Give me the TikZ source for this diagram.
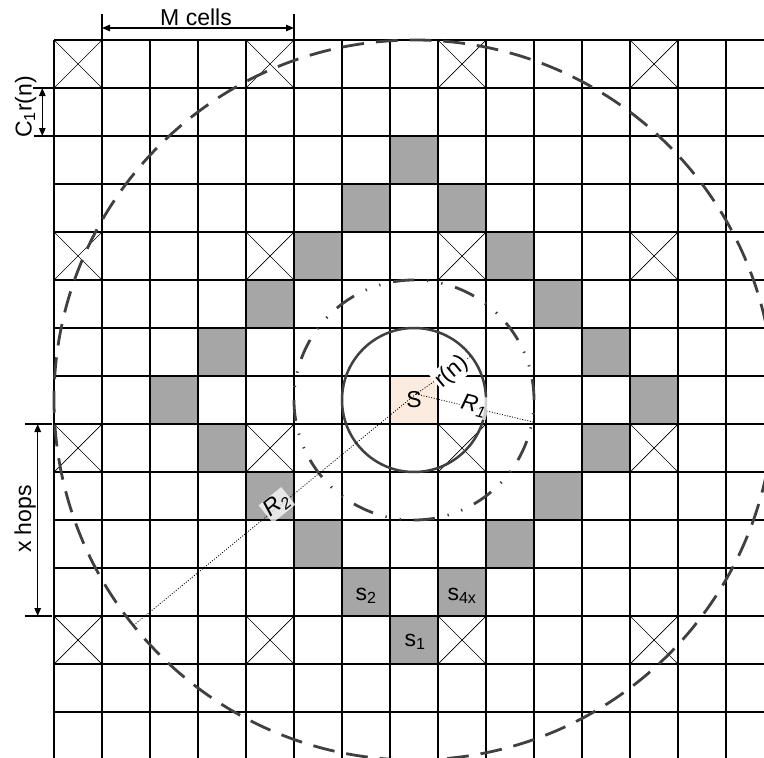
\documentclass[tikz,border=0pt]{standalone}
\usepackage{fontspec}
\setmainfont{Liberation Sans}
\usetikzlibrary{arrows.meta}
\definecolor{cellgray}{HTML}{A6A6A6}
\definecolor{peach}{HTML}{FCEBDF}
\definecolor{circgray}{HTML}{404040}
\begin{document}
\begin{tikzpicture}[x=1pt,y=-1pt,
  gridline/.style={line width=1.2pt,black},
  crossline/.style={line width=0.7pt,black},
  lbl/.style={font=\fontsize{23}{27}\selectfont, inner sep=0pt},
  dimarrow/.style={line width=1.3pt,{Triangle[length=8pt,width=6.5pt]}-{Triangle[length=8pt,width=6.5pt]}},
  dimtick/.style={line width=1.3pt},
  radline/.style={line width=0.8pt,dash pattern=on 1pt off 1.6pt},
  solidcirc/.style={circgray,line width=2.5pt},
  dotcirc/.style={circgray,line width=2.8pt,dash pattern=on 21pt off 13.08pt on 1.3pt off 13.08pt on 1.3pt off 13.07pt,dash phase=10.5pt},
  bigcirc/.style={circgray,line width=2.8pt,dash pattern=on 21.8pt off 11.96pt,dash phase=10.9pt},
  patch/.style={fill=white,fill opacity=0.75,text opacity=1}
]
\useasboundingbox (0,0) rectangle (764,758);
\fill[white] (0,0) rectangle (764,758);
\clip (0,0) rectangle (764,758);

% gray diamond cells
\foreach \c/\r in {7/2,6/3,8/3,5/4,9/4,4/5,10/5,3/6,11/6,2/7,12/7,3/8,11/8,4/9,10/9,5/10,9/10,6/11,8/11,7/12}
  \fill[cellgray] ({54+48*\c},{40+48*\r}) rectangle ++(48,48);
% source cell
\fill[peach] (390,376) rectangle ++(48,48);

% grid
\foreach \k in {0,...,14}
  \draw[gridline] ({54+48*\k},40) -- ({54+48*\k},758);
\foreach \k in {0,...,14}
  \draw[gridline] (54,{40+48*\k}) -- (764,{40+48*\k});

% crossed cells
\foreach \c in {0,4,8,12}
  \foreach \r in {0,4,8,12} {
    \draw[crossline] ({54+48*\c},{40+48*\r}) -- ++(48,48);
    \draw[crossline] ({54+48*\c+48},{40+48*\r}) -- ++(-48,48);
  }

% circles
\coordinate (C) at (414,400);
\draw[solidcirc] (C) circle[radius=72pt];
\draw[dotcirc,rotate around={5:(C)}] (C) circle[radius=120pt];
\draw[bigcirc,rotate around={3.01:(C)}] (C) circle[radius=360pt];

% radius lines
\coordinate (S0) at (416,394);
\coordinate (rnE) at (471,356);
\coordinate (R1E) at (533,422);
\coordinate (R2E) at (134,625);
\draw[radline] (S0) -- (rnE);
\draw[radline] (S0) -- (R1E);
\draw[radline] (S0) -- (R2E);

% labels inside
\node[lbl,anchor=base] (S) at (414,407) {S};
\node[lbl,fill=white,inner sep=1.5pt,rotate=40] (rn) at (452,372) {r(n)};
\node[lbl,patch,inner sep=1.5pt,rotate=-14] (R1) at (474,406) {\itshape R\textsubscript{1}};
\node[lbl,patch,inner sep=1.5pt,rotate=39] (R2) at (277,505) {\itshape R\textsubscript{2}};
\node[lbl,anchor=base] (s2) at (366,600) {s\textsubscript{2}};
\node[lbl,anchor=base] (s4x) at (462,600) {s\textsubscript{4x}};
\node[lbl,anchor=base] (s1) at (415,646) {s\textsubscript{1}};

% M cells dimension
\coordinate (mt1) at (102,14);
\coordinate (mb1) at (102,40);
\coordinate (mt2) at (294,14);
\coordinate (mb2) at (294,40);
\coordinate (ma1) at (102,28);
\coordinate (ma2) at (294,28);
\draw[dimtick] (mt1) -- (mb1);
\draw[dimtick] (mt2) -- (mb2);
\draw[dimarrow] (ma1) -- (ma2);
\node[lbl,anchor=base] (Mc) at (196,25) {M cells};

% C1 r(n) dimension
\coordinate (ct1) at (33,88);
\coordinate (ct1e) at (54,88);
\coordinate (ct2) at (34,136);
\coordinate (ct2e) at (54,136);
\coordinate (ca1) at (42.3,88);
\coordinate (ca2) at (42.3,136);
\draw[dimtick] (ct1) -- (ct1e);
\draw[dimtick] (ct2) -- (ct2e);
\draw[dimarrow] (ca1) -- (ca2);
\node[lbl,anchor=base,rotate=90] (Cr) at (31.5,107) {C\textsubscript{1}r(n)};

% x hops dimension
\coordinate (xt1) at (25,424);
\coordinate (xt1e) at (52,424);
\coordinate (xt2) at (25,616);
\coordinate (xt2e) at (52,616);
\coordinate (xa1) at (37.7,424);
\coordinate (xa2) at (37.7,616);
\draw[dimtick] (xt1) -- (xt1e);
\draw[dimtick] (xt2) -- (xt2e);
\draw[dimarrow] (xa1) -- (xa2);
\node[lbl,anchor=base,rotate=90] (xh) at (31,519) {x hops};
\end{tikzpicture}
\end{document}
